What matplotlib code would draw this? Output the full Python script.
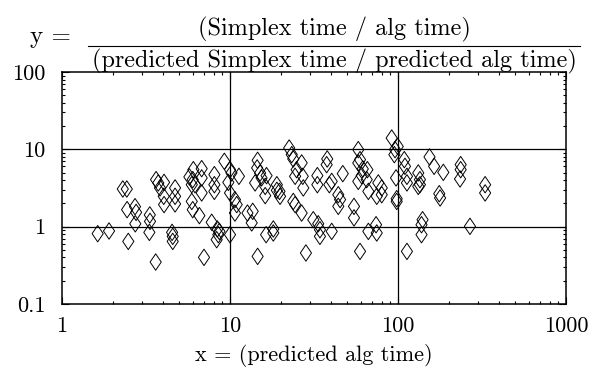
import matplotlib
matplotlib.use("Agg")
import matplotlib.pyplot as plt
from matplotlib.path import Path
from matplotlib.lines import Line2D
import numpy as np

plt.rcParams['mathtext.fontset'] = 'cm'
plt.rcParams['font.family'] = ['cmr10', 'DejaVu Serif']
plt.rcParams['axes.formatter.use_mathtext'] = True

# predicted alg time (x)
x_vals = [1.63, 1.905, 2.30, 2.43, 2.44, 2.72, 2.76, 2.73, 2.48, 3.33,
          3.34, 3.31, 3.61, 3.63, 3.74, 4.05, 3.83, 4.03, 4.05, 4.71,
          4.71, 4.71, 4.52, 4.56, 4.56, 5.73, 6.00, 6.05, 6.78, 5.92,
          6.19, 6.78, 6.78, 8.07, 8.07, 8.07, 5.92, 6.00, 6.57, 7.00,
          7.78, 8.40, 8.52, 8.64, 9.25, 10.0, 11.3, 9.77, 10.0, 10.7,
          10.96, 10.7, 10.0, 13.65, 13.46, 14.6, 14.5, 15.1, 15.4, 14.1,
          16.5, 16.2, 16.2, 14.6, 16.4, 18.1, 18.1, 19.0, 19.0, 19.7,
          19.85, 22.5, 23.3, 23.8, 26.7, 24.9, 24.4, 27.1, 27.3, 23.8,
          24.4, 26.7, 28.3, 31.3, 33.5, 34.3, 34.3, 40.3, 33.1, 33.1,
          37.9, 37.6, 39.0, 40.3, 44.1, 45.2, 44.1, 46.9, 58.0, 59.4,
          58.0, 61.7, 60.8, 58.0, 65.7, 65.1, 54.7, 54.7, 59.4, 66.6,
          76.3, 80.0, 80.0, 74.7, 66.6, 74.0, 74.7, 91.7, 96.0, 99.6,
          95.1, 97.3, 98.2, 98.2, 110, 113, 113, 109, 113, 132,
          135, 135, 132, 140, 138, 138, 154, 164, 186, 176,
          178, 236, 236, 234, 268, 330, 330, 12.7, 8.33, 10.2]

# (Simplex time / alg time) / (predicted Simplex time / predicted alg time)
y_vals = [0.812, 0.880, 3.07, 3.07, 1.66, 1.815, 1.53, 1.09, 0.645, 1.42,
          1.17, 0.844, 0.349, 4.06, 3.68, 3.74, 3.17, 2.47, 1.93, 3.17,
          2.47, 1.97, 0.844, 0.749, 0.645, 4.40, 4.06, 5.46, 5.63, 3.49,
          3.49, 4.27, 2.73, 4.71, 3.49, 2.86, 2.12, 1.66, 1.39, 0.401,
          1.14, 0.934, 0.788, 0.869, 7.00, 5.46, 4.48, 3.74, 2.73, 2.24,
          1.93, 1.50, 0.788, 1.58, 1.12, 7.21, 5.75, 4.95, 4.27, 3.68,
          4.57, 3.32, 2.52, 0.413, 0.788, 0.829, 0.934, 3.49, 2.95, 2.86,
          2.47, 10.4, 8.54, 7.51, 6.67, 5.46, 4.48, 4.48, 3.17, 2.12,
          1.93, 1.50, 0.457, 1.23, 1.09, 0.914, 0.749, 0.869, 4.57, 3.49,
          7.51, 6.34, 3.49, 3.85, 2.59, 2.24, 1.83, 4.85, 9.91, 7.36,
          6.67, 5.58, 4.57, 3.85, 5.46, 4.06, 1.83, 1.30, 0.479, 2.86,
          3.68, 3.17, 2.59, 2.47, 0.869, 1.06, 0.829, 14.0, 9.91, 10.9,
          8.54, 4.27, 2.12, 2.30, 6.03, 3.68, 0.479, 7.36, 4.48, 4.95,
          4.06, 3.49, 3.32, 1.23, 1.06, 0.788, 7.97, 6.03, 5.04, 2.67,
          2.35, 6.34, 5.46, 4.14, 1.01, 3.49, 2.73, 1.50, 0.679, 4.95]

x_ticks = [1, 10, 100, 1000]
x_ticklabels = ["1", "10", "100", "1000"]
y_ticks = [0.1, 1, 10, 100]
y_ticklabels = ["0.1", "1", "10", "100"]

title_lhs = "y ="
title_num = "(Simplex time / alg time)"
title_den = "(predicted Simplex time / predicted alg time)"

diamond = Path([(0, 1), (0.68, 0), (0, -1), (-0.68, 0), (0, 1)],
               [Path.MOVETO, Path.LINETO, Path.LINETO, Path.LINETO, Path.CLOSEPOLY])

W, H = 594, 377
fig = plt.figure(figsize=(W / 100, H / 100), dpi=100)
ax = fig.add_axes([0.1044, 0.1936, 0.8485, 0.6154])

ax.set_xscale('log')
ax.set_yscale('log')
ax.set_xlim(1, 1000)
ax.set_ylim(0.1, 100)

for gx in [10, 100]:
    ax.axvline(gx, color='black', lw=0.9, zorder=1)
for gy in [1, 10]:
    ax.axhline(gy, color='black', lw=0.9, zorder=1)

ax.scatter(x_vals, y_vals, marker=diamond, s=140, facecolors='none',
           edgecolors='black', linewidths=0.7, zorder=3)

ax.set_xticks(x_ticks)
ax.set_xticklabels(x_ticklabels)
ax.set_yticks(y_ticks)
ax.set_yticklabels(y_ticklabels)
ax.tick_params(which='major', direction='in', length=5, width=0.8,
               top=True, right=True, labelsize=16)
ax.tick_params(axis='x', which='major', pad=9)
ax.tick_params(axis='y', which='major', pad=12)
ax.tick_params(which='minor', direction='in', length=2.5, width=0.8,
               top=True, right=True)
for sp in ax.spines.values():
    sp.set_linewidth(1.1)

ax.set_xlabel('x = (predicted alg time)', fontsize=16, labelpad=6)

# title as a fraction
fig.text(30 / W, 1 - 37 / H, title_lhs, ha='left', va='center', fontsize=18)
fig.text(334 / W, 1 - 29 / H, title_num, ha='center', va='center', fontsize=17.5)
fig.text(334 / W, 1 - 61 / H, title_den, ha='center', va='center', fontsize=17.5)
fig.add_artist(Line2D([88 / W, 580 / W], [1 - 45.5 / H, 1 - 45.5 / H],
                      color='black', lw=0.8, transform=fig.transFigure))

fig.savefig('out.png', dpi=100)
